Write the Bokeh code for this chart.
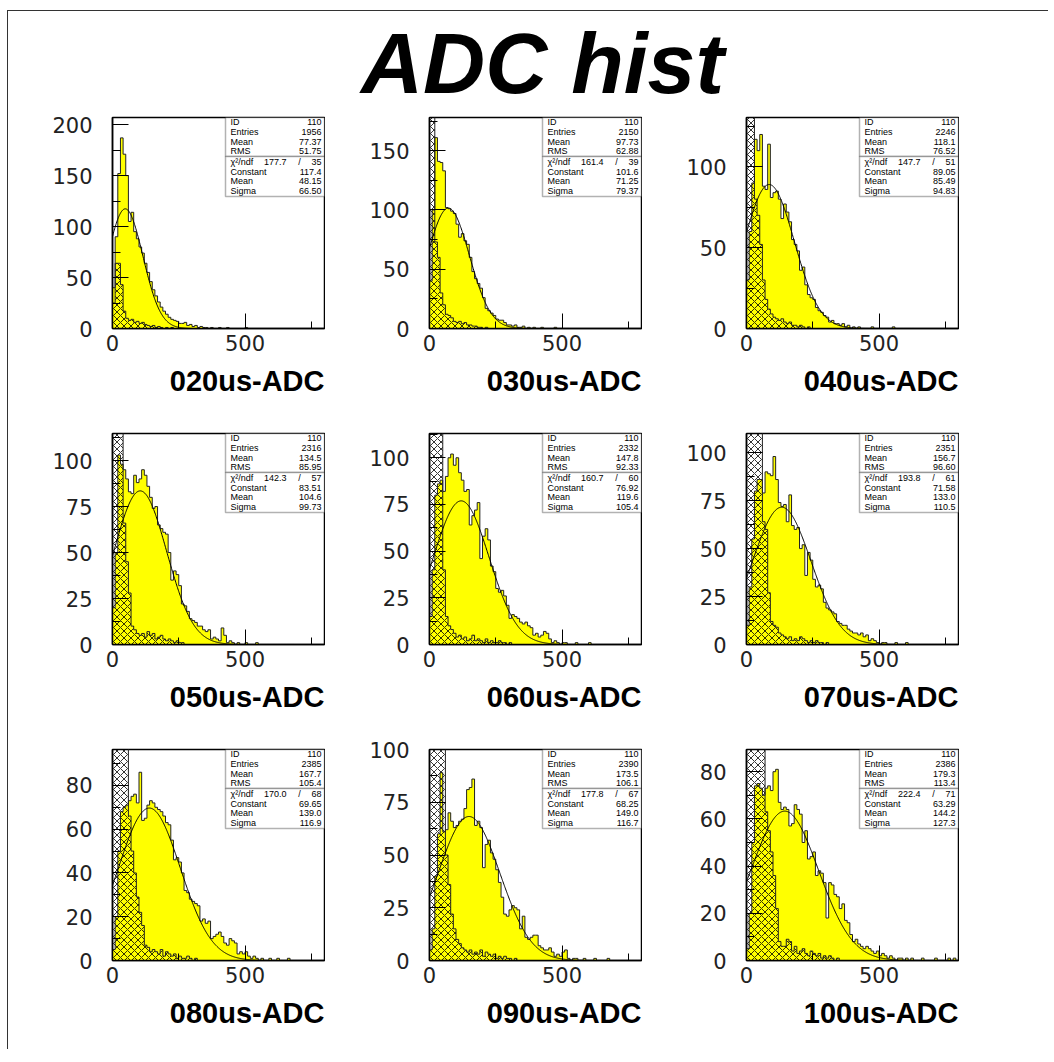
import numpy as np
from bokeh.plotting import figure
from bokeh.layouts import column, row
from bokeh.models import Label, BoxAnnotation, SingleIntervalTicker, Range1d, Title
from bokeh.embed import file_html
from bokeh.resources import INLINE

# ---------------- data ----------------
panel_names = ["020us-ADC", "030us-ADC", "040us-ADC",
               "050us-ADC", "060us-ADC", "070us-ADC",
               "080us-ADC", "090us-ADC", "100us-ADC"]

bin_edges_start, bin_edges_stop, bin_width = 0, 800, 10

yellow_020 = [40,90,152,187,171,150,105,114,95,88,80,74,64,55,46,38,32,26,21,17,14,11,9,8,7,5,5,6,3,4,2,3,1,2,1,1,0,1,0,0,1,0,0,1,0,0,0,0,0,0,1]
hatch_020 = [25,64,64,43,17,10,8,9,6,7,5,6,4,3,2,3,1,2,1,0,1,0,1]
yellow_030 = [40,100,161,141,140,133,102,101,99,97,88,77,80,74,71,60,48,42,38,34,26,17,15,13,11,8,7,7,5,3,3,2,3,1,1,2,0,1,0,1,0,0,1,0,0,0,0,1]
hatch_030 = [250,250,73,60,30,20,12,11,9,6,5,6,4,5,3,3,2,2,1,1,0,1]
yellow_040 = [30,60,90,117,110,120,88,86,114,81,84,85,80,68,77,72,66,55,52,48,36,38,27,21,19,18,13,11,10,8,7,4,5,3,3,2,3,1,2,0,1,0,1,0,0,0,0,1,0,0,0,0,0,0,0,1]
hatch_040 = [300,300,300,80,70,52,30,18,12,9,7,6,5,6,4,3,4,2,2,1,2,1,0,1]
yellow_050 = [20,50,103,98,95,90,83,82,92,88,90,95,92,86,80,74,75,65,63,61,60,50,35,40,38,32,22,21,18,14,13,12,10,10,8,7,8,3,4,3,2,9,5,1,2,1,0,1,0,0,1,0,0,0,1]
hatch_050 = [200,200,200,200,66,45,28,10,8,6,5,6,4,7,5,6,3,4,5,3,2,3,2,1,2,1,1]
yellow_060 = [15,40,80,86,88,82,90,100,102,96,100,92,88,82,83,64,69,72,76,46,58,62,56,42,39,30,28,29,26,21,14,16,15,14,12,11,12,10,9,5,6,4,5,7,6,3,1,2,1,0,1,1,0,0,0,1,0,0,0,0,1]
hatch_060 = [200,200,200,200,200,40,15,10,8,6,4,5,3,4,2,3,5,2,3,2,1,3,1,2,1,1,2,1,1,0,1]
yellow_070 = [10,30,55,80,86,86,79,90,89,88,98,86,74,72,73,64,78,62,60,61,50,52,36,48,44,34,30,31,29,22,19,18,17,16,12,11,10,10,8,7,6,6,5,6,4,5,2,3,2,1,0,1,1,0,0,0,1,0,0,0,1]
hatch_070 = [200,200,200,200,200,200,64,60,27,12,10,9,6,5,4,3,4,2,3,2,4,3,2,1,2,1,2,1,1,0,1]
yellow_080 = [5,20,50,68,70,71,73,75,76,72,86,64,65,71,73,72,70,69,68,66,63,62,55,46,47,45,40,32,31,28,27,26,25,18,19,17,18,10,11,12,13,11,8,7,10,9,8,3,4,3,4,2,1,2,1,0,1,0,0,1,0,0,1,0,0,0,1]
hatch_080 = [150,150,150,150,150,150,66,50,40,29,22,16,7,6,4,5,4,3,5,2,4,3,2,3,1,2,1,1,2,1,0,1]
yellow_090 = [5,15,40,60,89,61,62,70,66,63,64,66,67,72,81,82,86,64,66,63,44,55,57,51,48,43,37,30,22,21,24,26,25,24,15,21,11,10,11,12,12,7,6,5,5,6,4,2,3,2,4,5,1,0,1,1,0,0,1,0,0,0,1,0,0,0,0,1]
hatch_090 = [150,150,150,150,150,150,50,36,22,15,10,8,6,5,4,5,3,4,3,5,2,4,3,2,3,1,2,1,2,1,1,0,1]
yellow_100 = [5,20,50,74,75,73,70,73,74,72,80,81,67,64,65,64,57,58,66,64,62,50,55,43,44,46,36,38,37,33,18,33,32,28,27,22,24,17,16,11,8,9,7,6,5,6,5,4,3,4,2,3,2,1,2,1,0,1,1,0,1,0,1,0,0,0,1,0,0,0,0,1,0,0,0,0,1,0,1]
hatch_100 = [150,150,150,150,150,150,90,63,55,46,36,22,8,6,6,9,8,4,6,3,4,5,3,2,4,3,2,3,1,2,1,2,1,0,1]

yellow_all = [yellow_020, yellow_030, yellow_040, yellow_050, yellow_060,
              yellow_070, yellow_080, yellow_090, yellow_100]
hatch_all = [hatch_020, hatch_030, hatch_040, hatch_050, hatch_060,
             hatch_070, hatch_080, hatch_090, hatch_100]

y_max = [207, 178, 130.5, 114.7, 113, 110, 96.4, 100, 89.4]
y_tick_step = [50, 50, 50, 25, 25, 25, 20, 25, 20]

entries = ["1956", "2150", "2246", "2316", "2332", "2351", "2385", "2390", "2386"]
means = ["77.37", "97.73", "118.1", "134.5", "147.8", "156.7", "167.7", "173.5", "179.3"]
rms = ["51.75", "62.88", "76.52", "85.95", "92.33", "96.60", "105.4", "106.1", "113.4"]
chi2 = ["177.7", "161.4", "147.7", "142.3", "160.7", "193.8", "170.0", "177.8", "222.4"]
ndf = ["35", "39", "51", "57", "60", "61", "68", "67", "71"]
fit_constant = [117.4, 101.6, 89.05, 83.51, 76.92, 71.58, 69.65, 68.25, 63.29]
fit_mean = [48.15, 71.25, 85.49, 104.6, 119.6, 133.0, 139.0, 149.0, 144.2]
fit_sigma = [66.50, 79.37, 94.83, 99.73, 105.4, 110.5, 116.9, 116.7, 127.3]
fit_constant_txt = ["117.4", "101.6", "89.05", "83.51", "76.92", "71.58", "69.65", "68.25", "63.29"]
fit_mean_txt = ["48.15", "71.25", "85.49", "104.6", "119.6", "133.0", "139.0", "149.0", "144.2"]
fit_sigma_txt = ["66.50", "79.37", "94.83", "99.73", "105.4", "110.5", "116.9", "116.7", "127.3"]

# ---------------- layout constants ----------------
CELL_W = 317
B_LEFT, B_RIGHT = 104, 1
FW = CELL_W - B_LEFT - B_RIGHT
FH = 211
TITLE_W, TITLE_H = 1040, 101
ROW_BORDERS = [(5, 89), (16, 89), (16, 89)]   # (top, bottom) per row

TICK_FONT = "DejaVu Sans"
STAT_FONT = "Liberation Sans"
TITLE_FONT = "Liberation Sans"

edges = np.arange(bin_edges_start, bin_edges_stop + bin_width, bin_width)
nb = len(edges) - 1


def padded(vals):
    a = np.zeros(nb)
    a[:len(vals)] = vals
    return a


def slabel(p, x, y_from_top, text, align="left", size="9px"):
    p.add_layout(Label(x=x, y=FH - y_from_top, x_units="screen", y_units="screen",
                       text=text, text_align=align, text_baseline="middle",
                       text_font=STAT_FONT, text_font_size=size, text_color="black"))


def make_panel(i):
    bt, bb = ROW_BORDERS[i // 3]
    p = figure(width=CELL_W, height=bt + FH + bb, x_range=Range1d(0, 800),
               y_range=Range1d(0, y_max[i]), output_backend="svg",
               toolbar_location=None, min_border_left=B_LEFT,
               min_border_right=B_RIGHT, min_border_top=bt,
               min_border_bottom=bb, background_fill_color="white",
               border_fill_color="white")
    p.grid.visible = False
    p.outline_line_color = "black"
    p.outline_line_width = 1.5

    yel = np.append(padded(yellow_all[i]), 0)
    hat = np.append(padded(hatch_all[i]), 0)
    p.varea_step(x=edges, y1=0, y2=yel, step_mode="after", fill_color="#ffff00")
    p.varea_step(x=edges, y1=0, y2=hat, step_mode="after", fill_alpha=0,
                 hatch_pattern="diagonal_cross", hatch_color="black",
                 hatch_scale=7, hatch_weight=0.8)
    p.step(x=edges, y=yel, mode="after", line_color="#222222", line_width=1)
    p.step(x=edges, y=hat, mode="after", line_color="#222222", line_width=1)

    xs = np.linspace(0, 800, 500)
    ys = fit_constant[i] * np.exp(-0.5 * ((xs - fit_mean[i]) / fit_sigma[i]) ** 2)
    p.line(xs, ys, line_color="black", line_width=1)

    # axes
    for ax in (p.xaxis[0], p.yaxis[0]):
        ax.axis_line_color = "black"
        ax.axis_line_width = 1.5
        ax.major_tick_out = 0
        ax.minor_tick_out = 0
        ax.major_tick_line_color = "black"
        ax.minor_tick_line_color = "black"
        ax.major_label_text_font = TICK_FONT
        ax.major_label_text_font_size = "21px"
        ax.major_label_text_color = "#222222"
    p.xaxis.ticker = SingleIntervalTicker(interval=500, num_minor_ticks=2)
    p.xaxis.major_tick_in = 15
    p.xaxis.minor_tick_in = 7
    p.xaxis.major_label_standoff = 6
    p.yaxis.ticker = SingleIntervalTicker(interval=y_tick_step[i], num_minor_ticks=2)
    p.yaxis.major_tick_in = 16
    p.yaxis.minor_tick_in = 8
    p.yaxis.major_label_standoff = 20

    # statistics box
    bl, br = 113, FW
    p.add_layout(BoxAnnotation(left=bl, right=br, top=FH, bottom=FH - 39,
                               left_units="screen", right_units="screen",
                               top_units="screen", bottom_units="screen",
                               fill_color="white", fill_alpha=1.0,
                               line_color="black", line_width=1.5))
    p.add_layout(BoxAnnotation(left=bl, right=br, top=FH - 39, bottom=FH - 79,
                               left_units="screen", right_units="screen",
                               top_units="screen", bottom_units="screen",
                               fill_color="white", fill_alpha=1.0,
                               line_color="black", line_width=1.5))
    names_top = ["ID", "Entries", "Mean", "RMS"]
    vals_top = ["110", entries[i], means[i], rms[i]]
    for k in range(4):
        yy = 4.8 + 9.6 * k
        slabel(p, bl + 5, yy, names_top[k])
        slabel(p, br - 3, yy, vals_top[k], align="right")
    names_bot = ["\u03c7\u00b2/ndf", "Constant", "Mean", "Sigma"]
    vals_bot = ["", fit_constant_txt[i], fit_mean_txt[i], fit_sigma_txt[i]]
    for k in range(4):
        yy = 44.5 + 9.6 * k
        slabel(p, bl + 5, yy, names_bot[k])
        if vals_bot[k]:
            slabel(p, br - 3, yy, vals_bot[k], align="right")
    slabel(p, bl + 61, 44.5, chi2[i], align="right")
    slabel(p, bl + 74, 44.5, "/", align="center")
    slabel(p, br - 3, 44.5, ndf[i], align="right")

    # panel title under the axis
    p.add_layout(Title(text=panel_names[i], align="right", text_font=TITLE_FONT,
                       text_font_size="29px", text_font_style="bold",
                       text_color="black", standoff=19), "below")
    return p


title = figure(width=TITLE_W, height=TITLE_H, x_range=Range1d(0, TITLE_W),
               y_range=Range1d(0, TITLE_H), output_backend="svg", toolbar_location=None,
               min_border=0, background_fill_color="white", border_fill_color="white")
title.axis.visible = False
title.grid.visible = False
title.outline_line_color = None
title.add_layout(Label(x=534, y=50, text="ADC hist", text_align="center",
                       text_baseline="middle", text_font=TITLE_FONT,
                       text_font_size="86px", text_font_style="bold italic",
                       text_color="black"))

panels = [make_panel(i) for i in range(9)]
layout = column(title,
                row(panels[0], panels[1], panels[2]),
                row(panels[3], panels[4], panels[5]),
                row(panels[6], panels[7], panels[8]),
                styles={"margin-left": "7px", "margin-top": "10px",
                        "border-left": "1px solid #333", "border-top": "1px solid #333"})

open("out.html", "w").write(file_html(layout, INLINE))
